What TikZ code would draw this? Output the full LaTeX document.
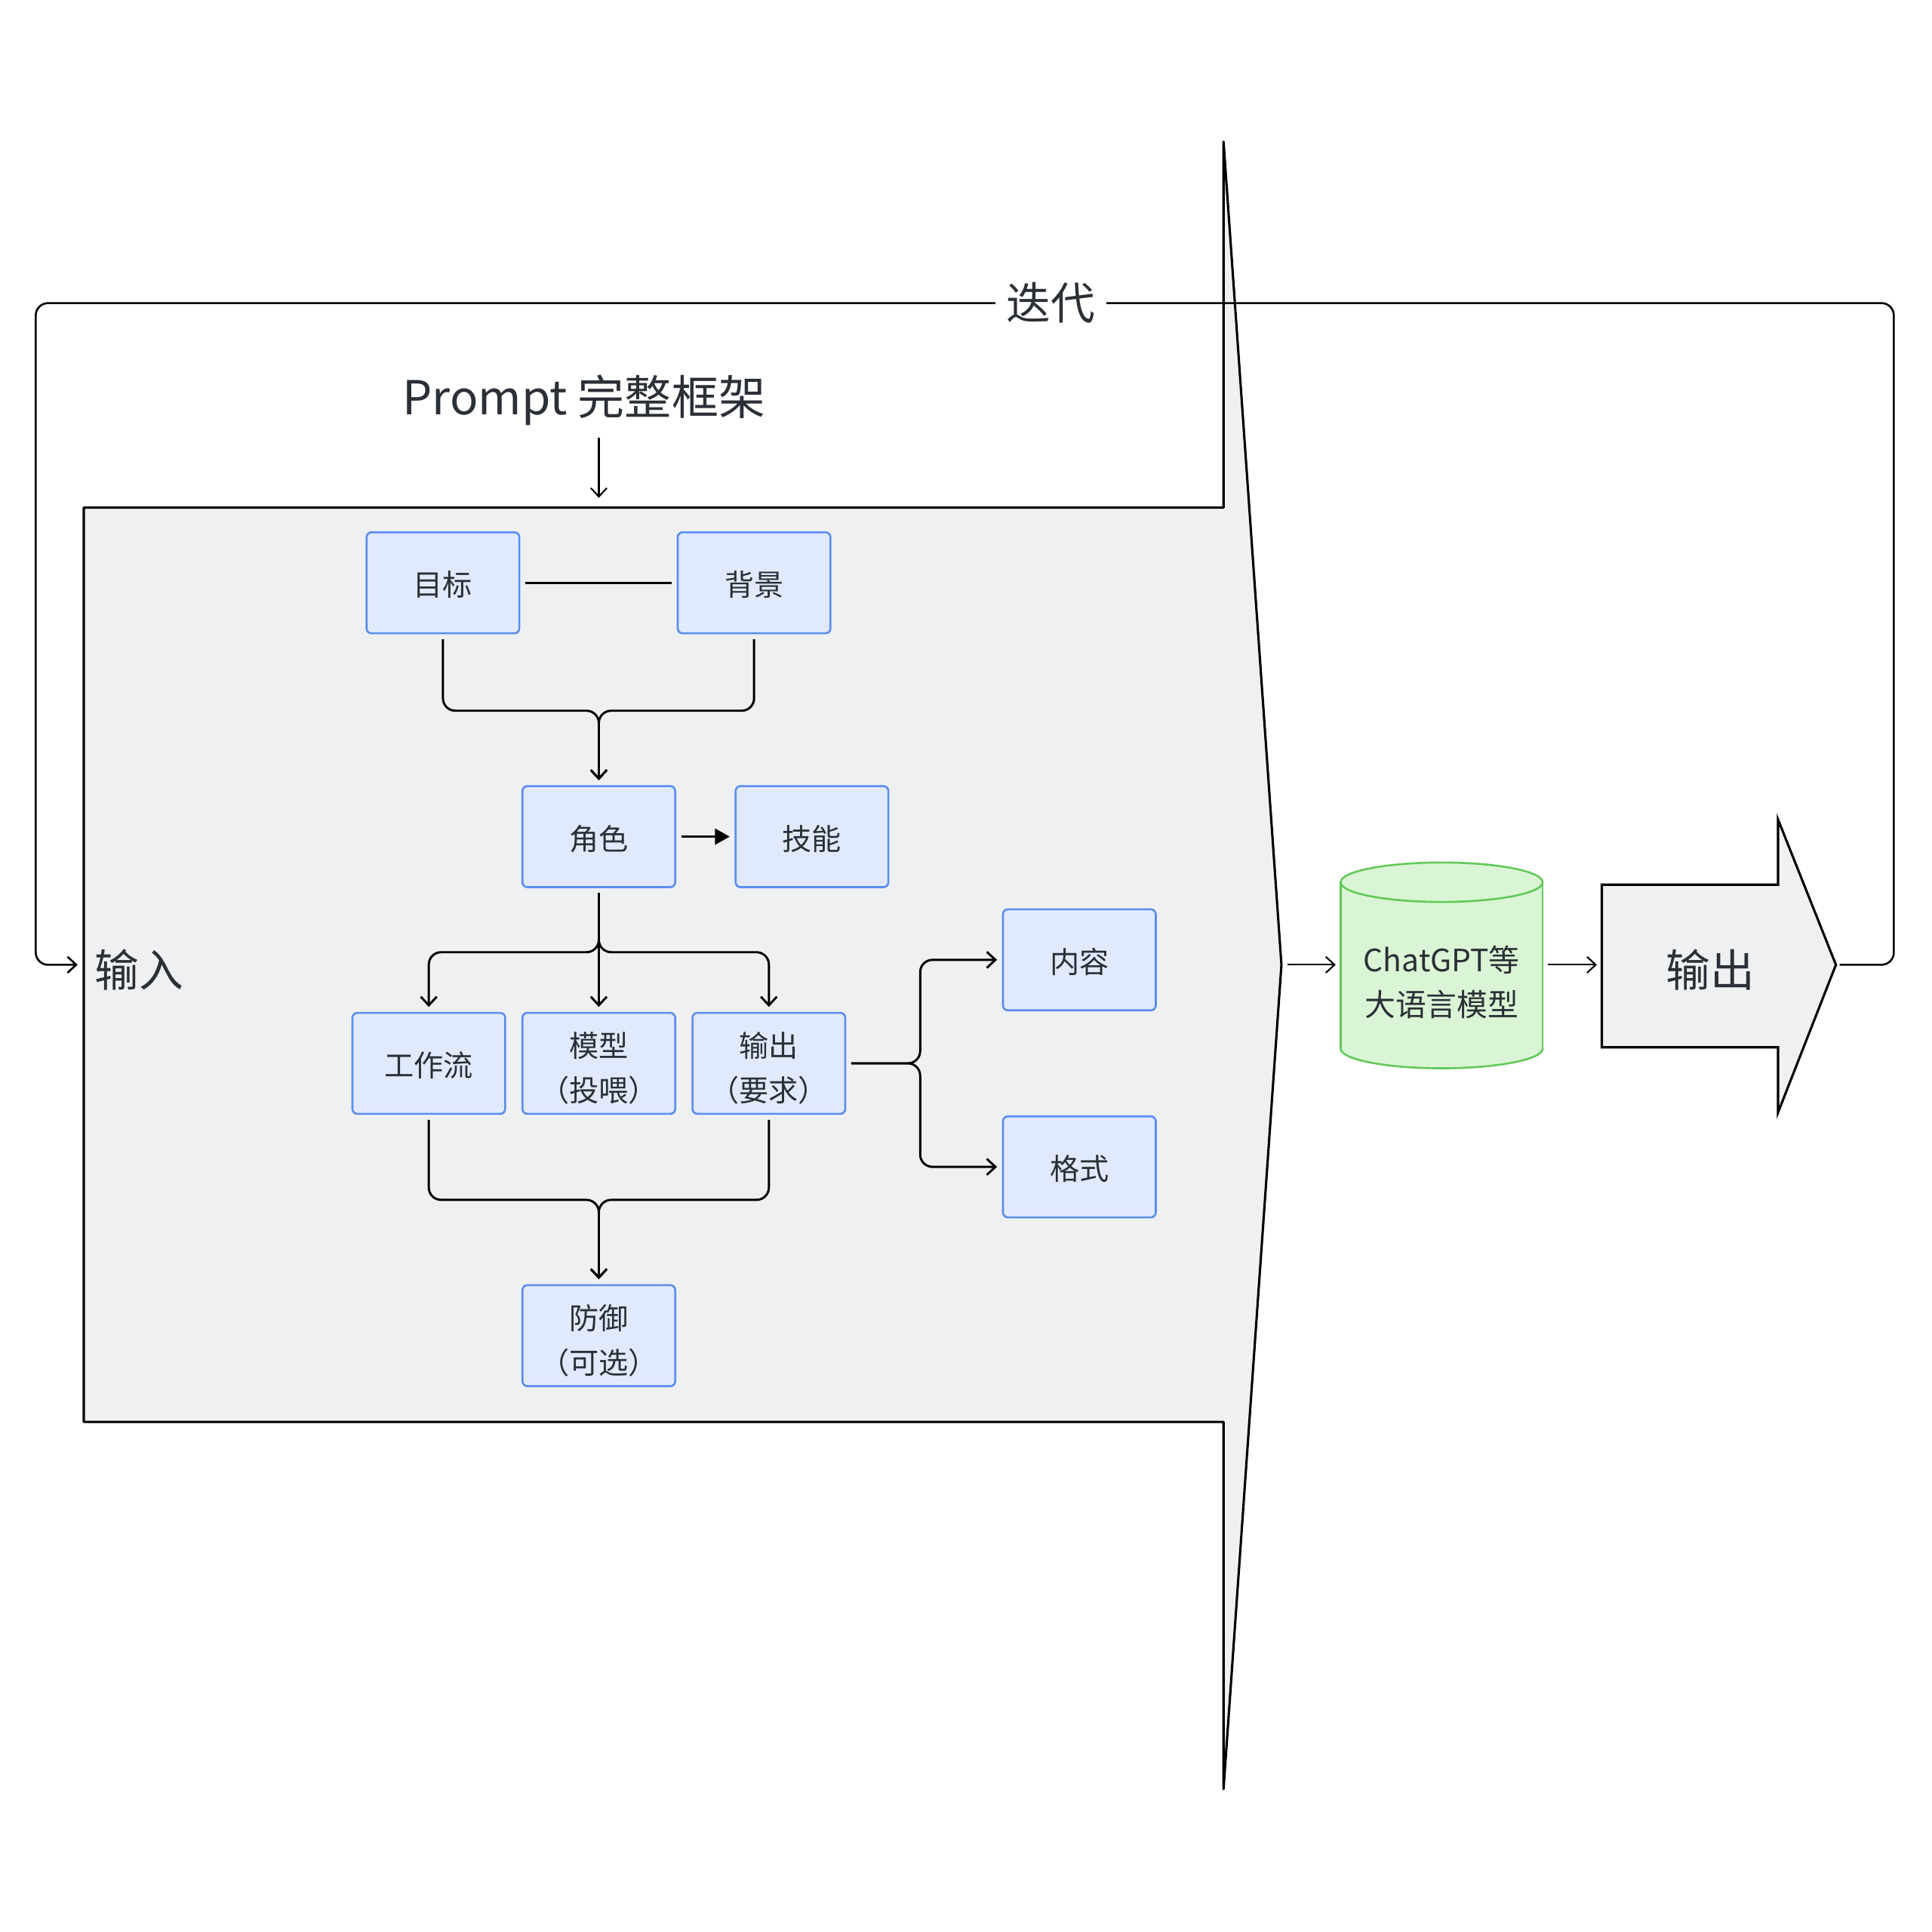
\documentclass[tikz,border=0pt]{standalone}
\usepackage{fontspec}
\setmainfont{Noto Sans CJK SC}
\usetikzlibrary{arrows.meta,calc}
\definecolor{boxfill}{HTML}{E1EAFD}
\definecolor{boxline}{HTML}{5B8DEF}
\definecolor{panel}{HTML}{EFF0F2}
\definecolor{txt}{HTML}{2B2F36}
\definecolor{cylfill}{HTML}{DAF5D5}
\definecolor{cylline}{HTML}{63C95A}
\newcommand{\cardstrutone}{\rule{0pt}{23.5pt}}
\newcommand{\cardstruttwo}{\rule{0pt}{28.5pt}}
\begin{document}
\begin{tikzpicture}[x=1pt,y=-1pt,
  card/.style={draw=boxline, fill=boxfill, line width=1.6pt, rounded corners=4pt,
    minimum width=124pt, minimum height=82pt, inner sep=0pt, align=center,
    text=txt, font=\fontsize{24}{36}\selectfont},
  conn/.style={line width=1.8pt, rounded corners=10pt, shorten >=4pt,
    -{Straight Barb[length=7pt,width=13pt]}},
  thinconn/.style={line width=1.3pt, shorten >=4pt,
    -{Straight Barb[length=7pt,width=13pt]}},
  plainline/.style={line width=1.8pt},
  bigshape/.style={fill=panel, draw=black, line width=1.9pt, line join=round},
  bigtext/.style={text=txt, font=\fontsize{36}{44}\selectfont, inner sep=0pt},
]
\useasboundingbox (0,0) rectangle (1568,1568);
\fill[white] (0,0) rectangle (1568,1568);

% big prompt arrow
\draw[bigshape] (68,412) -- (993,412) -- (993,115) -- (1040,783) -- (993,1452)
  -- (993,1154) -- (68,1154) -- cycle;
% output arrow
\draw[bigshape, line join=miter] (1300,718) -- (1443,718) -- (1443,665) -- (1490,783)
  -- (1443,903) -- (1443,850) -- (1300,850) -- cycle;

% cylinder
\filldraw[fill=cylfill, draw=cylline, line width=1.6pt] (1170,851) ellipse[x radius=82, y radius=16];
\fill[cylfill] (1088,716) rectangle (1252,851);
\draw[cylline, line width=1.6pt] (1088,716) -- (1088,851) (1252,716) -- (1252,851);
\filldraw[fill=cylfill, draw=cylline, line width=1.6pt] (1170,716) ellipse[x radius=82, y radius=16];
\node[text=txt, font=\fontsize{25}{36}\selectfont, align=center, inner sep=0pt] (llmtext) at (1170,797) {ChatGPT等\\大语言模型};

% coordinates
\coordinate (bodytop) at (486,412);
\coordinate (bodytip) at (1040,783);
\coordinate (inleft) at (68,783);
\coordinate (llmL) at (1088,783);
\coordinate (llmR) at (1252,783);
\coordinate (outL) at (1300,783);
\coordinate (outtip) at (1490,783);

% labels
\node[bigtext, font=\fontsize{38}{46}\selectfont] (plabel) at (474,325) {Prompt 完整框架};
\node[bigtext] (shuru) at (113,787) {输入};
\node[bigtext] (shuchu) at (1388,787) {输出};

% cards
\node[card] (mubiao) at (359.5,473) {\cardstrutone 目标};
\node[card] (beijing) at (612,473) {\cardstrutone 背景};
\node[card] (juese) at (486,679) {\cardstrutone 角色};
\node[card] (jineng) at (659,679) {\cardstrutone 技能};
\node[card] (gzl) at (348,863) {\cardstrutone 工作流};
\node[card] (mx) at (486,863) {\cardstruttwo 模型\\（投喂）};
\node[card] (sc) at (624,863) {\cardstruttwo 输出\\（要求）};
\node[card] (nr) at (876,779) {\cardstrutone 内容};
\node[card] (gs) at (876,947) {\cardstrutone 格式};
\node[card] (fy) at (486,1084) {\cardstruttwo 防御\\（可选）};

% connectors inside
\draw[plainline, shorten <=4pt, shorten >=4pt] (mubiao) -- (beijing);
\draw[conn] (mubiao.south) ++(0,4) -- ++(0,58) -| (juese.north);
\draw[conn] (beijing.south) ++(0,4) -- ++(0,58) -| (juese.north);
\draw[line width=1.8pt, shorten <=4pt, shorten >=4pt, -{Triangle[length=12pt,width=13pt]}] (juese) -- (jineng);
\draw[conn] (juese.south) ++(0,4) -- ++(0,48) -| (gzl.north);
\draw[conn] (juese.south) ++(0,4) -- (mx.north);
\draw[conn] (juese.south) ++(0,4) -- ++(0,48) -| (sc.north);
\draw[conn] (gzl.south) ++(0,4) -- ++(0,65) -| (fy.north);
\draw[conn] (sc.south) ++(0,4) -- ++(0,65) -| (fy.north);
\draw[conn] (sc.east) ++(4,0) -- ++(56,0) |- (nr.west);
\draw[conn] (sc.east) ++(4,0) -- ++(56,0) |- (gs.west);

% prompt arrow
\draw[thinconn, shorten >=8pt] (bodytop) ++(0,-57) -- (bodytop);

% flow
\draw[thinconn, shorten <=5pt] (bodytip) -- (llmL);
\draw[thinconn, shorten <=4pt] (llmR) -- (outL);

% iteration loop
\draw[conn, line width=1.6pt, shorten <=3pt, shorten >=5pt] (outtip) -- (1537,783) -- (1537,246) -- (29,246) -- (29,783) -- (inleft);
\node[bigtext, fill=white, inner xsep=9pt, inner ysep=4pt] (diedai) at (853,246) {迭代};
\end{tikzpicture}
\end{document}
